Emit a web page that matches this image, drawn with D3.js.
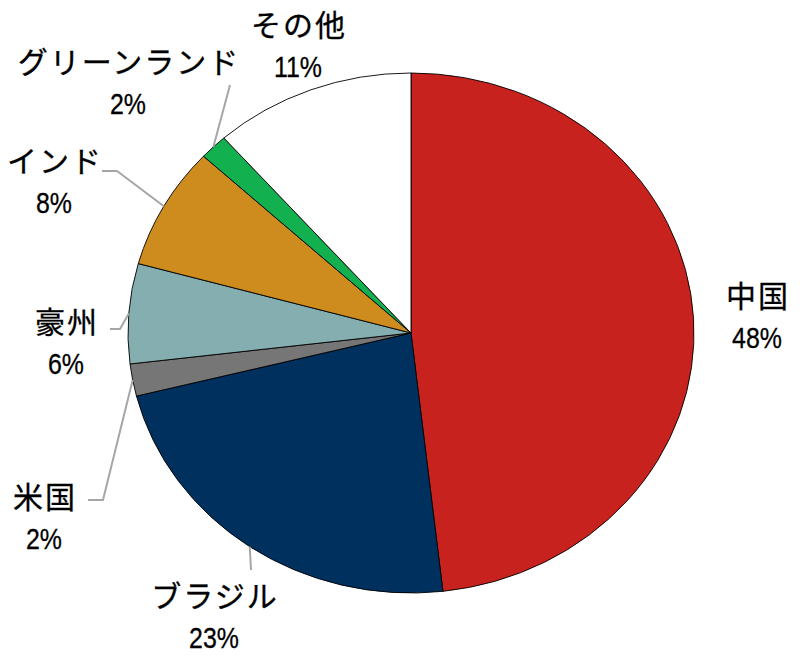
<!DOCTYPE html>
<html>
<head>
<meta charset="utf-8">
<script src="https://cdn.jsdelivr.net/npm/d3@7"></script>
<style>
  body { margin: 0; background: #fff; }
  .name { font-family: "Noto Sans CJK JP", sans-serif; font-size: 30px; letter-spacing: 2px; fill: #000; stroke: #000; stroke-width: 0.3px; }
  .pct { font-family: "Liberation Sans", sans-serif; font-size: 29px; fill: #000; stroke: #000; stroke-width: 0.3px; }
</style>
</head>
<body>
<div class="chart"></div>
<script>
"use strict";

const WIDTH = 800, HEIGHT = 663;
const CX = 411, CY = 333;
const RX = 283, RY = 260;

// data (percent shares)
const names = ["中国", "ブラジル", "米国", "豪州", "インド", "グリーンランド", "その他"];
const shares = [48.2, 22.9, 2.0, 6.2, 7.6, 1.6, 11.5];
const pctLabels = ["48%", "23%", "2%", "6%", "8%", "2%", "11%"];
const colors = ["#c8221f", "#00305e", "#767676", "#85aeb1", "#cd8c1d", "#12b04f", "#ffffff"];

// label placement: [x, name baseline y]; leader elbows (null = no leader)
const labelPos = [[757, 307], [214, 607], [44, 508], [66, 333], [54, 172], [128, 73], [298, 36]];
const leaders = [null, [[251, 570]], [[103, 500], [88, 500]], [[120, 329], [110, 329]],
  [[117, 171], [102, 171]], [[230, 85]], null];

const data = names.map((n, i) => ({ name: n, value: shares[i], pct: pctLabels[i], color: colors[i], i }));

const pie = d3.pie().sort(null).value((d) => d.value);
const arcs = pie(data);
const arc = d3.arc().innerRadius(0).outerRadius(RY);

const svg = d3.select(".chart").append("svg")
  .attr("width", WIDTH).attr("height", HEIGHT);

// pie is stretched horizontally in the original
const g = svg.append("g")
  .attr("transform", `translate(${CX},${CY}) scale(${RX / RY},1)`);

g.selectAll("path")
  .data(arcs)
  .enter()
  .append("path")
  .attr("d", arc)
  .style("fill", (d) => d.data.color)
  .style("stroke", "#000")
  .style("stroke-width", 0.9)
  .attr("vector-effect", "non-scaling-stroke");

// leader lines start on the rim at the slice's middle angle
const edgePoint = (d) => {
  const a = (d.startAngle + d.endAngle) / 2;
  return [CX + RX * Math.sin(a), CY - RY * Math.cos(a)];
};

svg.selectAll(".leader")
  .data(arcs.filter((d) => leaders[d.data.i]))
  .enter()
  .append("polyline")
  .attr("class", "leader")
  .attr("points", (d) => [edgePoint(d)].concat(leaders[d.data.i]).map((p) => p.join(",")).join(" "))
  .style("fill", "none")
  .style("stroke", "#a6a6a6")
  .style("stroke-width", 2);

// labels
const lab = svg.selectAll(".lab")
  .data(data)
  .enter()
  .append("g")
  .attr("class", "lab");

lab.append("text")
  .attr("class", "name")
  .attr("x", (d) => labelPos[d.i][0] + 1)
  .attr("y", (d) => labelPos[d.i][1])
  .attr("text-anchor", "middle")
  .text((d) => d.name);

// percent labels are narrow in the original
lab.append("text")
  .attr("class", "pct")
  .attr("transform", (d) => `translate(${labelPos[d.i][0]},${labelPos[d.i][1] + 41}) scale(0.86,1)`)
  .attr("text-anchor", "middle")
  .text((d) => d.pct);
</script>
</body>
</html>
